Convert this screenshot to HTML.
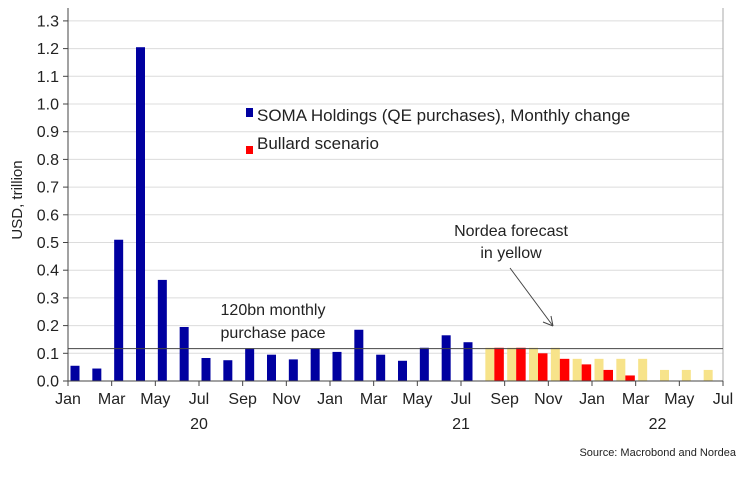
<!DOCTYPE html>
<html><head><meta charset="utf-8"><style>
body{margin:0;background:#fff}
svg text{font-family:"Liberation Sans",sans-serif;fill:#222}
</style></head><body>
<svg id="chart" width="747" height="474" xmlns="http://www.w3.org/2000/svg"></svg>
<script>
const months=["Jan","Feb","Mar","Apr","May","Jun","Jul","Aug","Sep","Oct","Nov","Dec","Jan","Feb","Mar","Apr","May","Jun","Jul","Aug","Sep","Oct","Nov","Dec","Jan","Feb","Mar","Apr","May","Jun"];
const somaValues=[0.055,0.045,0.51,1.205,0.365,0.195,0.083,0.075,0.118,0.095,0.078,0.118,0.105,0.185,0.095,0.073,0.12,0.165,0.14];
const forecastValues=[null,null,null,null,null,null,null,null,null,null,null,null,null,null,null,null,null,null,null,0.12,0.12,0.12,0.12,0.08,0.08,0.08,0.08,0.04,0.04,0.04];
const bullardValues=[null,null,null,null,null,null,null,null,null,null,null,null,null,null,null,null,null,null,null,0.12,0.12,0.10,0.08,0.06,0.04,0.02];
const yTicks=[0,0.1,0.2,0.3,0.4,0.5,0.6,0.7,0.8,0.9,1.0,1.1,1.2,1.3];
const xTickLabels=["Jan","Mar","May","Jul","Sep","Nov","Jan","Mar","May","Jul","Sep","Nov","Jan","Mar","May","Jul"];
const yearLabels=["20","21","22"];
const paceLevel=0.117;

const svg=document.getElementById('chart');
const NS="http://www.w3.org/2000/svg";
const X0=68,X1=723,Y0=381,PXV=277;
const mw=(X1-X0)/30;
const xm=i=>X0+i*mw;
const y=v=>Y0-v*PXV;
function el(t,a,txt){const e=document.createElementNS(NS,t);for(const k in a)e.setAttribute(k,a[k]);if(txt!==undefined)e.textContent=txt;svg.appendChild(e);return e;}

yTicks.forEach((v,i)=>{
  const g=el('line',{x1:X0,x2:X1,y1:y(v),y2:y(v),stroke:'#dcdcdc','stroke-width':1});
  
  
  const t=el('line',{x1:X0-5,x2:X0,y1:y(v),y2:y(v),stroke:'#444'});
  
  
  const l=el('text',{x:X0-9,y:y(v)+5.5,'text-anchor':'end','font-size':16},v.toFixed(1));
  
  
});
const ra=el('line',{x1:X1,x2:X1,y1:8,y2:Y0,stroke:'#aaa'});



somaValues.forEach((v,i)=>{
  const r=el('rect',{x:xm(i)+2.5,y:y(v),width:9,height:Y0-y(v),fill:'#0000a0'});
  
  
});
forecastValues.forEach((v,i)=>{
  if(v==null)return;
  const r=el('rect',{x:xm(i)+2.5,y:y(v),width:9,height:Y0-y(v),fill:'#f7e38a'});
  
  
});
bullardValues.forEach((v,i)=>{
  if(v==null)return;
  const r=el('rect',{x:xm(i)+11.5,y:y(v),width:9.5,height:Y0-y(v),fill:'#f00'});
  
  
});

const pl=el('line',{x1:X0,x2:X1,y1:y(paceLevel),y2:y(paceLevel),stroke:'#444','stroke-width':1});



const la=el('line',{x1:X0,x2:X0,y1:8,y2:Y0,stroke:'#444'});


const xa=el('line',{x1:X0,x2:X1,y1:Y0,y2:Y0,stroke:'#444'});



for(let i=0;i<=30;i++){
  const t=el('line',{x1:xm(i),x2:xm(i),y1:Y0,y2:Y0+(i%2==0?5:0),stroke:'#444'});
  
  
}
xTickLabels.forEach((s,k)=>{
  const t=el('text',{x:xm(k*2),y:404,'text-anchor':'middle','font-size':16},s);
  
  
});
const yearX=[xm(6),xm(18),xm(27)];
yearLabels.forEach((s,k)=>{
  const t=el('text',{x:yearX[k],y:429,'text-anchor':'middle','font-size':16},s);
  
  
});
</script>
<svg style="position:absolute;left:0;top:0" width="747" height="474" xmlns="http://www.w3.org/2000/svg">
<g font-family="Liberation Sans, sans-serif" fill="#222">
<text transform="translate(22,200) rotate(-90)" text-anchor="middle" font-size="15">USD, trillion</text>
<rect x="246" y="108" width="7" height="9" fill="#0000a0"/>
<text x="257" y="121" font-size="17">SOMA Holdings (QE purchases), Monthly change</text>
<rect x="246" y="146" width="7" height="8" fill="#f00"/>
<text x="257" y="149" font-size="17">Bullard scenario</text>
<text x="511" y="236" text-anchor="middle" font-size="16">Nordea forecast</text>
<text x="511" y="258" text-anchor="middle" font-size="16">in yellow</text>
<line x1="510" y1="268" x2="553" y2="326" stroke="#444"/>
<path d="M553,326 L543,322 M553,326 L551,316" stroke="#444" fill="none"/>
<text x="273" y="315" text-anchor="middle" font-size="16">120bn monthly</text>
<text x="273" y="338" text-anchor="middle" font-size="16">purchase pace</text>
<text x="736" y="456" text-anchor="end" font-size="11">Source: Macrobond and Nordea</text>
</g></svg>
</body></html>
